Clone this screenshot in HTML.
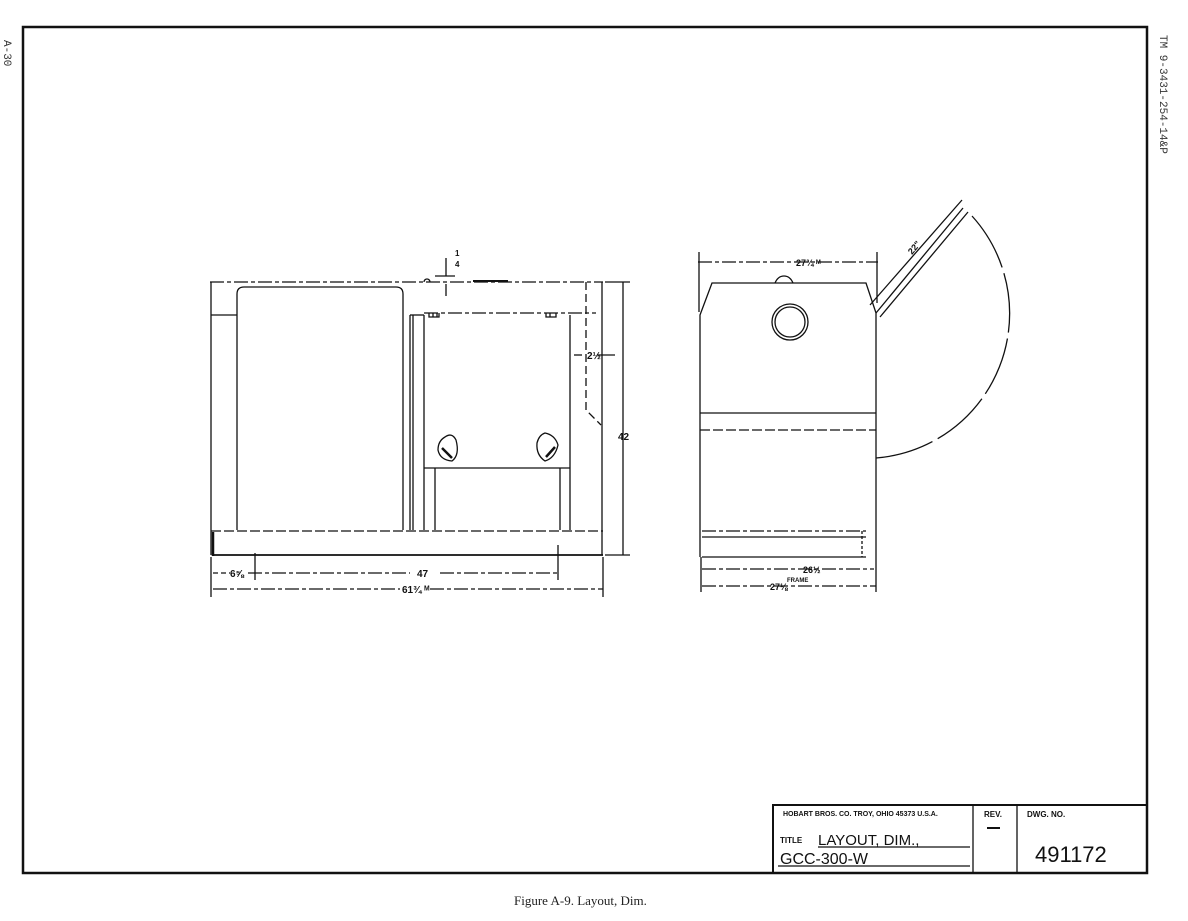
<!DOCTYPE html>
<html><head><style>body{margin:0;background:#fff}svg{display:block}</style></head><body>
<svg width="1188" height="921" viewBox="0 0 1188 921" xmlns="http://www.w3.org/2000/svg" font-family="Liberation Sans, sans-serif">
<rect x="23" y="27" width="1124" height="846" fill="none" stroke="#111" stroke-width="2.5"/>
<text x="4" y="40" font-family="Liberation Mono, monospace" font-size="11" transform="rotate(90 4 40)" fill="#333">A-30</text>
<text x="1160" y="35" font-family="Liberation Mono, monospace" font-size="11" transform="rotate(90 1160 35)" fill="#333">TM 9-3431-254-14&amp;P</text>
<text x="514" y="905" font-family="Liberation Serif, serif" font-size="13" fill="#222">Figure A-9. Layout, Dim.</text>
<g stroke="#111" fill="none" stroke-width="1.3">
<!-- left view -->
<line x1="210" y1="282" x2="603" y2="282" stroke-dasharray="14 3 4 3"/>
<line x1="211" y1="282" x2="211" y2="555"/>
<line x1="213" y1="532" x2="213" y2="556" stroke-width="2.5"/>
<line x1="602" y1="282" x2="602" y2="555"/>
<line x1="211" y1="531" x2="603" y2="531" stroke-dasharray="10 3"/>
<line x1="213" y1="555" x2="603" y2="555" stroke-width="1.8"/>
<line x1="211" y1="315" x2="237" y2="315"/>
<path d="M237 530 V294 Q237 287 244 287 H396 Q403 287 403 294 V530"/>
<line x1="410" y1="315" x2="410" y2="530"/><line x1="413" y1="315" x2="413" y2="530"/><line x1="424" y1="315" x2="424" y2="530"/>
<line x1="410" y1="315" x2="424" y2="315"/>
<line x1="424" y1="313" x2="596" y2="313" stroke-dasharray="14 3 4 3"/>
<line x1="570" y1="315" x2="570" y2="530"/>
<line x1="424" y1="468" x2="570" y2="468"/>
<line x1="435" y1="468" x2="435" y2="530"/><line x1="560" y1="468" x2="560" y2="530"/>
<path d="M586 282 V410 L601 425" stroke-dasharray="8 4"/>
<path d="M445 437 Q452 432 456 440 Q460 455 452 461 Q440 460 438 450 Q438 441 445 437Z"/>
<line x1="442" y1="448" x2="452" y2="458" stroke-width="2.5"/>
<path d="M545 433 Q555 435 558 445 Q555 458 545 461 Q536 455 537 443 Q539 435 545 433Z"/>
<line x1="546" y1="457" x2="555" y2="447" stroke-width="2.5"/>
<path d="M429 313 v4 h10 v-4 M433 313 v4 M437 313 v4 M546 313 v4 h10 v-4 M550 313 v4"/>
<path d="M424 282 a3 3 0 1 1 6 0"/>
<line x1="473" y1="281" x2="508" y2="281" stroke-width="2"/>
<line x1="435" y1="276" x2="455" y2="276"/>
<line x1="446" y1="258" x2="446" y2="276"/><line x1="446" y1="284" x2="446" y2="296"/>
<line x1="623" y1="282" x2="623" y2="555"/>
<line x1="605" y1="282" x2="630" y2="282"/><line x1="605" y1="555" x2="630" y2="555"/>
<line x1="574" y1="355" x2="582" y2="355"/><line x1="597" y1="355" x2="615" y2="355"/>
<line x1="213" y1="573" x2="230" y2="573" stroke-dasharray="5 3"/>
<line x1="248" y1="573" x2="410" y2="573" stroke-dasharray="14 3 4 3"/>
<line x1="440" y1="573" x2="558" y2="573" stroke-dasharray="14 3 4 3"/>
<line x1="255" y1="553" x2="255" y2="580"/><line x1="558" y1="545" x2="558" y2="580"/>
<line x1="211" y1="557" x2="211" y2="597"/><line x1="603" y1="557" x2="603" y2="597"/>
<line x1="213" y1="589" x2="400" y2="589" stroke-dasharray="14 3 4 3"/>
<line x1="430" y1="589" x2="603" y2="589" stroke-dasharray="14 3 4 3"/>
<!-- right view -->
<path d="M700 557 V315 L712 283 H866 L876 313 V557"/>
<path d="M775 283 Q778 276 784 276 Q790 276 793 283"/>
<circle cx="790" cy="322" r="18"/><circle cx="790" cy="322" r="15"/>
<line x1="700" y1="413" x2="876" y2="413"/>
<line x1="700" y1="430" x2="876" y2="430" stroke-dasharray="10 3"/>
<line x1="702" y1="531" x2="866" y2="531" stroke-dasharray="14 3 4 3"/>
<line x1="702" y1="537" x2="866" y2="537"/>
<line x1="702" y1="557" x2="866" y2="557"/>
<line x1="862" y1="531" x2="862" y2="557" stroke-dasharray="3 2"/>
<line x1="698" y1="262" x2="878" y2="262" stroke-dasharray="14 3 4 3"/>
<line x1="699" y1="252" x2="699" y2="312"/><line x1="877" y1="252" x2="877" y2="303"/>
<line x1="876" y1="313" x2="963" y2="208"/><line x1="880" y1="317" x2="968" y2="212"/>
<line x1="870" y1="305" x2="962" y2="200"/>
<path d="M972 216 A145 145 0 0 1 876 458" stroke-dasharray="60 6"/>
<line x1="702" y1="569" x2="874" y2="569" stroke-dasharray="14 3 4 3"/>
<line x1="702" y1="586" x2="876" y2="586" stroke-dasharray="14 3 4 3"/>
<line x1="701" y1="557" x2="701" y2="592"/><line x1="876" y1="557" x2="876" y2="592"/>
<!-- title block -->
<rect x="773" y="805" width="374" height="68" stroke-width="2"/>
<line x1="973" y1="805" x2="973" y2="873"/><line x1="1017" y1="805" x2="1017" y2="873"/>
<line x1="818" y1="847" x2="970" y2="847"/><line x1="778" y1="866" x2="970" y2="866"/>
<line x1="987" y1="828" x2="1000" y2="828" stroke-width="2"/>
</g>
<g fill="#111" font-weight="bold">
<text x="455" y="256" font-size="8">1</text><text x="455" y="267" font-size="8">4</text>
<text x="587" y="359" font-size="10">2½</text>
<text x="618" y="440" font-size="10">42</text>
<text x="230" y="577" font-size="10">6⅝</text>
<text x="417" y="577" font-size="10">47</text>
<text x="402" y="593" font-size="10">61¾ ᴹ</text>
<text x="796" y="266" font-size="9">27¾ ᴹ</text>
<text x="912" y="255" font-size="9" transform="rotate(-50 912 255)">22"</text>
<text x="803" y="573" font-size="9">26½</text>
<text x="770" y="590" font-size="9">27⅛</text><text x="787" y="582" font-size="6">FRAME</text>
<text x="783" y="816" font-size="7">HOBART BROS. CO. TROY, OHIO 45373 U.S.A.</text>
<text x="984" y="817" font-size="8">REV.</text>
<text x="1027" y="817" font-size="8">DWG. NO.</text>
<text x="780" y="843" font-size="8">TITLE</text>
</g>
<g fill="#111" font-family="Liberation Sans, sans-serif">
<text x="818" y="845" font-size="15">LAYOUT, DIM.,</text>
<text x="780" y="864" font-size="16">GCC-300-W</text>
<text x="1035" y="862" font-size="22">491172</text>
</g>
</svg>
</body></html>
